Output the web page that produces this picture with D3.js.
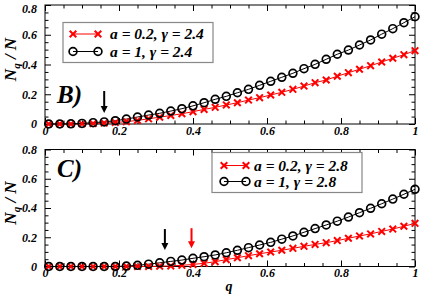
<!DOCTYPE html>
<html><head><meta charset="utf-8">
<script src="https://cdn.jsdelivr.net/npm/d3@7"></script>
<style>
html,body{margin:0;padding:0;background:#fff;}
text{font-family:"Liberation Serif",serif;font-weight:bold;font-style:italic;}
</style></head>
<body><svg id="c" width="422" height="295"></svg>
<script>
const q = [0.01,0.04,0.07,0.10,0.13,0.16,0.19,0.22,0.25,0.28,0.31,0.34,0.37,0.40,0.43,0.46,0.49,0.52,0.55,0.58,0.61,0.64,0.67,0.70,0.73,0.76,0.79,0.82,0.85,0.88,0.91,0.94,0.97,1.00];
const topA02 = [0,0,0,0.001,0.003,0.006,0.010,0.016,0.024,0.035,0.046,0.057,0.069,0.083,0.098,0.112,0.128,0.143,0.161,0.177,0.195,0.213,0.233,0.255,0.278,0.296,0.321,0.345,0.368,0.392,0.417,0.442,0.466,0.493];
const topA1 = [0,0,0.001,0.004,0.009,0.014,0.022,0.033,0.047,0.060,0.072,0.087,0.103,0.122,0.143,0.166,0.186,0.210,0.233,0.260,0.287,0.314,0.341,0.372,0.401,0.435,0.469,0.497,0.531,0.565,0.604,0.641,0.681,0.721];
const botA02 = [0,0,0,0,0,0,0,0,0,0,0.002,0.004,0.008,0.014,0.022,0.033,0.047,0.060,0.074,0.087,0.099,0.111,0.124,0.138,0.151,0.163,0.177,0.193,0.209,0.223,0.240,0.256,0.275,0.295];
const botA1 = [0,0,0,0,0,0,0,0.003,0.008,0.016,0.025,0.035,0.044,0.056,0.067,0.079,0.094,0.111,0.129,0.147,0.165,0.187,0.209,0.234,0.259,0.284,0.310,0.338,0.368,0.398,0.429,0.461,0.494,0.528];
const xTicks = [0,0.2,0.4,0.6,0.8,1];
const xTickLabels = ["0","0.2","0.4","0.6","0.8","1"];
const yTicks = [0,0.2,0.4,0.6,0.8];
const yTickLabels = ["0","0.2","0.4","0.6","0.8"];
const xMinor = [0.05,0.1,0.15,0.25,0.3,0.35,0.45,0.5,0.55,0.65,0.7,0.75,0.85,0.9,0.95];
const yMinor = [0.05,0.1,0.15,0.25,0.3,0.35,0.45,0.5,0.55,0.65,0.7,0.75];
const topLegend = ["a = 0.2, γ = 2.4","a = 1, γ = 2.4"];
const botLegend = ["a = 0.2, γ = 2.8","a = 1, γ = 2.8"];
const topArrows = [{q:0.16,y1:0.222,y2:0.074,color:"#000"}];
const botArrows = [{q:0.324,y1:0.256,y2:0.113,color:"#000"},{q:0.396,y1:0.262,y2:0.124,color:"#ff0000"}];

const svg = d3.select("#c");
const x = d3.scaleLinear().domain([0,1]).range([45,415]);
const RED = "#ff0000";
const FONT = '"Liberation Serif",serif';

function panel(cfg){
  const y = d3.scaleLinear().domain([0,0.8]).range([cfg.y0,cfg.y1]);
  const g = svg.append("g");
  g.append("rect").attr("x",x(0)).attr("y",y(0.8)).attr("width",x(1)-x(0)).attr("height",y(0)-y(0.8))
    .attr("fill","none").attr("stroke","#000").attr("stroke-width",1);
  const axB = g.append("g").attr("transform",`translate(0,${y(0)})`)
    .call(d3.axisBottom(x).tickValues(xTicks).tickSizeInner(-6).tickSizeOuter(0).tickPadding(2).tickFormat((d,i)=>xTickLabels[i]));
  const axBm = g.append("g").attr("transform",`translate(0,${y(0)})`)
    .call(d3.axisBottom(x).tickValues(xMinor).tickSizeInner(-3.5).tickSizeOuter(0).tickFormat(""));
  const axT = g.append("g").attr("transform",`translate(0,${y(0.8)})`)
    .call(d3.axisTop(x).tickValues(xTicks).tickSizeInner(-6).tickSizeOuter(0).tickFormat(""));
  const axTm = g.append("g").attr("transform",`translate(0,${y(0.8)})`)
    .call(d3.axisTop(x).tickValues(xMinor).tickSizeInner(-3.5).tickSizeOuter(0).tickFormat(""));
  const axL = g.append("g").attr("transform",`translate(${x(0)},0)`)
    .call(d3.axisLeft(y).tickValues(yTicks).tickSizeInner(-6).tickSizeOuter(0).tickPadding(8).tickFormat((d,i)=>yTickLabels[i]));
  const axLm = g.append("g").attr("transform",`translate(${x(0)},0)`)
    .call(d3.axisLeft(y).tickValues(yMinor).tickSizeInner(-3.5).tickSizeOuter(0).tickFormat(""));
  const axR = g.append("g").attr("transform",`translate(${x(1)},0)`)
    .call(d3.axisRight(y).tickValues(yTicks).tickSizeInner(-6).tickSizeOuter(0).tickFormat(""));
  const axRm = g.append("g").attr("transform",`translate(${x(1)},0)`)
    .call(d3.axisRight(y).tickValues(yMinor).tickSizeInner(-3.5).tickSizeOuter(0).tickFormat(""));
  [axB,axBm,axT,axTm,axL,axLm,axR,axRm].forEach(a=>{
    a.attr("font-family",FONT);
    a.select(".domain").remove();
    a.selectAll("line").attr("stroke","#000").attr("stroke-width",1);
    a.selectAll("text").attr("font-size",12).attr("fill","#000");
  });
  if (cfg.nudgeTop) axL.selectAll("text").filter(d=>d===0.8).attr("dy","0.62em");
  const yl = g.append("text").attr("transform",`translate(16,${(y(0)+y(0.8))/2-5}) rotate(-90)`)
    .attr("text-anchor","middle").attr("font-size",17).attr("fill","#000");
  yl.append("tspan").text("N");
  yl.append("tspan").text("q").attr("font-size",11).attr("dy",4);
  yl.append("tspan").text(" / N").attr("dy",-4);
  g.append("text").attr("x",cfg.tagX).attr("y",cfg.tagY).attr("font-size",25).attr("fill","#000").text(cfg.tag);
  const line = d3.line().x((d,i)=>x(q[i])).y(d=>y(d));
  g.append("path").attr("d",line(cfg.a02)).attr("fill","none").attr("stroke",RED).attr("stroke-width",1);
  g.append("path").attr("d",line(cfg.a1)).attr("fill","none").attr("stroke","#000").attr("stroke-width",1);
  const cross = "M-3.3,-3.3L3.3,3.3M-3.3,3.3L3.3,-3.3";
  g.selectAll(".cx").data(cfg.a02).join("path").attr("d",cross)
    .attr("transform",(d,i)=>`translate(${x(q[i])},${y(d)})`).attr("stroke",RED).attr("stroke-width",2).attr("fill","none");
  g.selectAll(".ci").data(cfg.a1).join("circle").attr("cx",(d,i)=>x(q[i])).attr("cy",d=>y(d)).attr("r",3.9)
    .attr("fill","none").attr("stroke","#000").attr("stroke-width",1.7);
  cfg.arrows.forEach(a=>{
    const ax = x(a.q), ya = y(a.y1), yb = y(a.y2);
    g.append("line").attr("x1",ax).attr("x2",ax).attr("y1",ya).attr("y2",yb-6).attr("stroke",a.color).attr("stroke-width",2);
    g.append("path").attr("d",`M${ax-3.5},${yb-7}L${ax+3.5},${yb-7}L${ax},${yb}Z`).attr("fill",a.color);
  });
  const L = cfg.legend;
  g.append("rect").attr("x",L.x).attr("y",L.y).attr("width",L.w).attr("height",L.h)
    .attr("fill","#fff").attr("stroke","#888").attr("stroke-width",1.2);
  const rows = [{c:RED,m:"x"},{c:"#000",m:"o"}];
  rows.forEach((r,i)=>{
    const ry = L.y + L.r0 + i*L.dr;
    g.append("line").attr("x1",L.sx1).attr("x2",L.sx2).attr("y1",ry).attr("y2",ry).attr("stroke",r.c).attr("stroke-width",1);
    [L.sx1,L.sx2].forEach(px=>{
      if(r.m==="x") g.append("path").attr("d",cross).attr("transform",`translate(${px},${ry})`).attr("stroke",RED).attr("stroke-width",2);
      else g.append("circle").attr("cx",px).attr("cy",ry).attr("r",3.9).attr("fill","none").attr("stroke","#000").attr("stroke-width",1.7);
    });
    g.append("text").attr("x",L.tx).attr("y",ry+5).attr("font-size",15.5).attr("fill","#000").text(L.labels[i]);
  });
}

panel({y0:124,y1:5,nudgeTop:true,a02:topA02,a1:topA1,tag:"B)",tagX:57,tagY:103,arrows:topArrows,
  legend:{x:63,y:22.5,w:150,h:40,r0:11.5,dr:17.5,sx1:73,sx2:98,tx:110,labels:topLegend}});
panel({y0:266.5,y1:149.5,a02:botA02,a1:botA1,tag:"C)",tagX:57,tagY:177,arrows:botArrows,
  legend:{x:212,y:152.5,w:150,h:40,r0:13,dr:16,sx1:224,sx2:246,tx:254,labels:botLegend}});
svg.append("text").attr("x",229).attr("y",291).attr("text-anchor","middle").attr("font-size",14).attr("fill","#000").text("q");
</script></body></html>
